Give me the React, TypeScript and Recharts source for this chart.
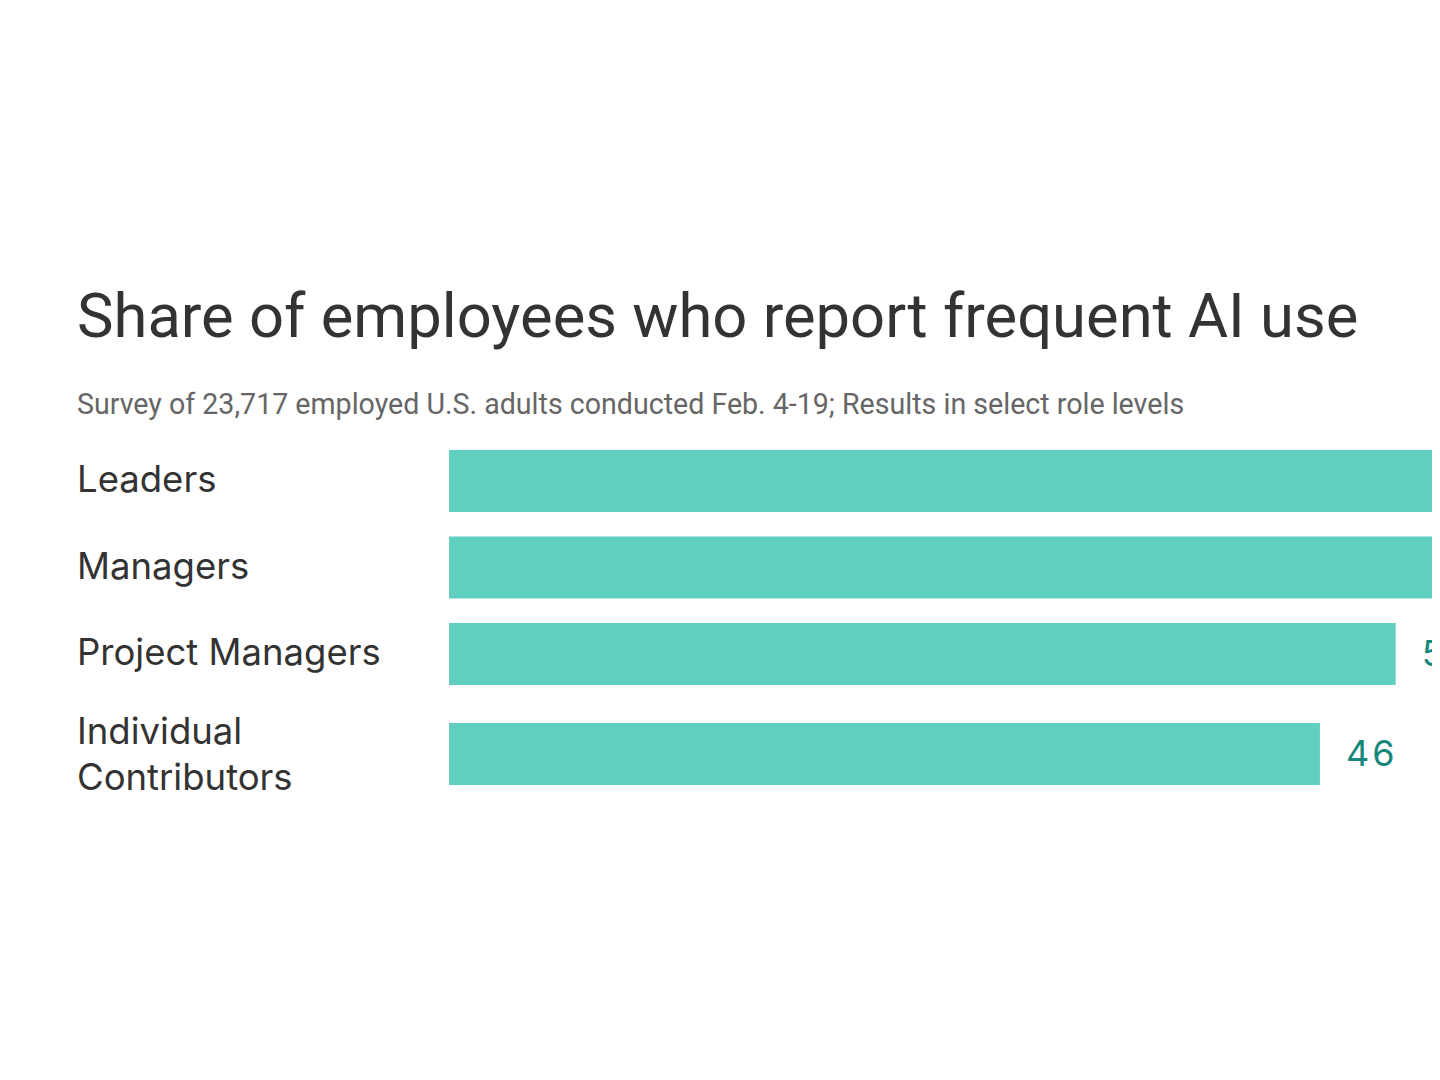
import React from 'react';
import { BarChart, Bar, XAxis, YAxis, LabelList } from 'recharts';

const roles = ['Leaders', 'Managers', 'Project Managers'];
const roleValues = [56, 52, 50];
const lastRole = ['Individual Contributors'];
const lastRoleValues = [46];

const BAR_COLOR = '#5fcfc0';
const LABEL_COLOR = '#16877c';
const TEXT_COLOR = '#333333';

const X_MAX = 60;
const AXIS_WIDTH = 441;
const PLOT_WIDTH = 1136;
const BAND = 86.5;
const PAD = 30;
const FRAME_WIDTH = 1432; // visible width, the chart runs past the right edge like the source

const LabelFont = "Inter, 'Noto Sans', sans-serif";

const RoleTick = (props: any) => {
  const { y, payload } = props;
  const words: string[] = String(payload.value).split(' ');
  if (payload.value === 'Individual Contributors') {
    return (
      <text x={69} y={y} textAnchor="start" fill={TEXT_COLOR} fontSize={36.5} fontFamily={LabelFont}>
        <tspan x={69} dy={-10}>{words[0]}</tspan>
        <tspan x={69} dy={46}>{words[1]}</tspan>
      </text>
    );
  }
  return (
    <text x={69} y={y} dy={11} textAnchor="start" fill={TEXT_COLOR} fontSize={36.5} fontFamily={LabelFont}>
      {payload.value}
    </text>
  );
};

// value label to the right of the bar; skipped when it would start outside the visible frame
const ValueLabel = (props: any) => {
  const { x, y, width, height, value } = props;
  const lx = x + width + 26;
  if (lx >= FRAME_WIDTH) return null;
  return (
    <text
      x={lx}
      y={y + height / 2}
      dy={12}
      fill={LABEL_COLOR}
      fontSize={36}
      fontFamily={LabelFont}
      letterSpacing={3}
    >
      {value}
    </text>
  );
};

const RoleChart: React.FC<{ names: string[]; values: number[] }> = ({ names, values }) => {
  const data = names.map((name, i) => ({ name, value: values[i] }));
  return (
    <BarChart
      width={AXIS_WIDTH + PLOT_WIDTH + 120}
      height={BAND * names.length + PAD * 2}
      data={data}
      layout="vertical"
      margin={{ top: PAD, right: 120, bottom: PAD, left: 0 }}
      barSize={62}
    >
      <XAxis type="number" domain={[0, X_MAX]} hide />
      <YAxis
        type="category"
        dataKey="name"
        width={AXIS_WIDTH}
        axisLine={false}
        tickLine={false}
        tick={<RoleTick />}
        interval={0}
      />
      <Bar dataKey="value" fill={BAR_COLOR} isAnimationActive={false}>
        <LabelList dataKey="value" content={<ValueLabel />} />
      </Bar>
    </BarChart>
  );
};

export default function App() {
  return (
    <div style={{ position: 'relative', width: FRAME_WIDTH, height: 1064, overflow: 'hidden', background: '#fff' }}>
      <div
        style={{
          position: 'absolute',
          left: 69,
          top: 272,
          fontFamily: 'Roboto, sans-serif',
          fontSize: 61.5,
          color: TEXT_COLOR,
          whiteSpace: 'nowrap',
          lineHeight: '72px',
        }}
      >
        Share of employees who report frequent AI use
      </div>
      <div
        style={{
          position: 'absolute',
          left: 69,
          top: 378,
          fontFamily: 'Roboto, sans-serif',
          fontSize: 28.6,
          color: '#666666',
          whiteSpace: 'nowrap',
          lineHeight: '36px',
        }}
      >
        Survey of 23,717 employed U.S. adults conducted Feb. 4-19; Results in select role levels
      </div>
      <div style={{ position: 'absolute', left: 0, top: 430 - PAD }}>
        <RoleChart names={roles} values={roleValues} />
      </div>
      <div style={{ position: 'absolute', left: 0, top: 703 - PAD }}>
        <RoleChart names={lastRole} values={lastRoleValues} />
      </div>
    </div>
  );
}
